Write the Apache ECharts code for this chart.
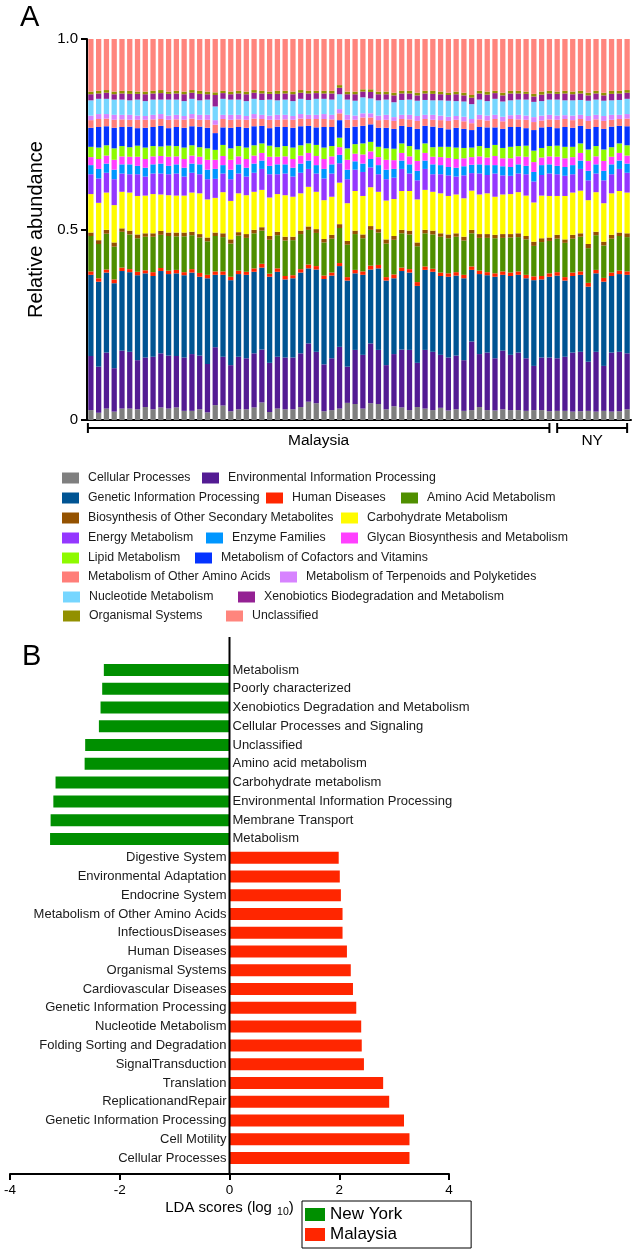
<!DOCTYPE html>
<html><head><meta charset="utf-8">
<script src="https://cdn.jsdelivr.net/npm/echarts@6/dist/echarts.min.js"></script>
<style>html,body{margin:0;padding:0;background:#fff}#c{width:644px;height:1253px}</style>
</head><body><div id="c"></div>
<script>
// ---------------- Panel A data (relative abundance, in percent of 1.0) ----------------
const sampleIds = ['M1','M2','M3','M4','M5','M6','M7','M8','M9','M10','M11','M12','M13','M14','M15','M16','M17','M18','M19','M20',
 'M21','M22','M23','M24','M25','M26','M27','M28','M29','M30','M31','M32','M33','M34','M35','M36','M37','M38','M39','M40',
 'M41','M42','M43','M44','M45','M46','M47','M48','M49','M50','M51','M52','M53','M54','M55','M56','M57','M58','M59','M60',
 'NY1','NY2','NY3','NY4','NY5','NY6','NY7','NY8','NY9','NY10'];
const groupLabels = ['Malaysia','NY'];
const groupSizes = [60,10];
const yTicksA = ['0','0.5','1.0'];

const cellularProcesses = [2.6,1.9,3.0,2.2,3.0,3.0,2.8,3.4,2.8,3.3, 3.0,3.3,2.4,2.4,2.8,2.0,3.9,3.8,2.3,2.8, 2.8,3.3,4.6,2.1,3.0,2.8,2.8,3.4,4.8,4.4, 2.3,2.6,3.0,4.5,4.2,3.0,4.4,4.2,2.8,3.6, 3.3,2.6,3.4,3.0,2.6,3.2,2.5,2.8,2.4,2.6, 3.4,2.6,2.5,2.8,2.6,2.6,2.4,2.6,2.6,2.3, 2.4,2.4,2.2,2.3,2.4,2.2,2.4,2.2,2.3,2.8];
const envInfoProcessing = [14.2,12.1,14.7,11.4,15.2,14.9,12.9,13.0,13.8,14.2, 13.9,13.5,14.0,14.9,14.1,12.7,15.2,12.8,12.1,13.8, 13.4,14.2,13.9,12.9,13.6,13.6,13.6,14.1,15.3,13.5, 12.3,13.6,16.2,9.5,14.2,14.1,15.7,14.2,11.6,13.7, 15.2,15.8,11.6,15.4,15.3,13.9,13.9,14.1,13.3,18.0, 13.9,15.1,13.7,15.4,14.5,15.1,13.8,11.6,13.8,14.1, 13.8,14.2,15.5,15.6,12.9,15.7,11.8,15.5,15.6,14.7];
const geneticInfoProcessing = [21.3,22.3,21.0,22.3,20.9,20.9,22.3,22.1,21.2,21.6, 21.4,21.7,21.6,21.4,20.7,22.5,19.0,21.5,22.3,21.7, 21.9,21.4,21.5,22.6,22.3,20.5,20.8,21.2,19.7,21.6, 22.4,21.7,21.2,22.6,20.1,21.0,19.4,21.4,22.2,19.9, 20.6,20.3,20.2,21.0,21.0,20.7,21.2,21.0,21.5,18.8, 21.0,20.3,21.4,19.9,20.7,20.4,21.0,22.5,20.5,21.2, 21.7,20.0,20.1,20.2,19.7,20.6,22.1,20.1,20.4,20.6];
const humanDiseases = [0.9,0.9,0.8,1.0,0.9,0.8,0.9,0.8,1.0,0.8, 0.9,0.9,0.8,0.9,1.0,0.9,0.9,0.9,0.9,0.9, 0.8,0.9,1.0,0.8,0.9,0.9,0.8,0.9,1.0,0.9, 0.9,0.8,0.8,0.9,0.9,0.9,1.0,0.9,0.9,1.0, 0.9,0.9,1.0,0.9,0.8,0.9,0.9,0.9,0.9,0.9, 0.9,0.8,0.9,0.9,0.9,0.9,0.9,1.0,0.9,0.9, 0.9,0.9,0.9,0.9,1.0,0.9,1.0,0.9,0.9,0.9];
const aminoAcidMetabolism = [9.3,9.0,9.4,8.6,9.4,9.1,8.8,8.8,9.3,8.7, 9.1,8.8,9.4,8.9,9.3,8.8,9.3,9.0,8.7,9.2, 8.9,9.2,8.7,8.9,8.7,9.3,9.2,9.2,9.1,8.7, 8.7,8.9,9.2,8.5,9.4,8.7,9.4,8.5,8.8,9.1, 9.0,9.1,9.4,8.7,9.0,9.4,9.2,9.3,9.0,8.7, 8.6,9.0,9.2,8.8,9.2,9.0,9.3,8.0,8.9,8.5, 8.8,9.0,8.9,9.1,9.1,9.1,8.5,8.9,9.1,9.0];
const biosynthesisOther = [0.9,1.0,1.0,1.1,0.9,1.0,1.0,0.9,0.9,1.0, 0.9,1.0,1.0,0.9,0.9,1.0,0.9,1.0,1.1,0.9, 1.0,0.9,0.9,1.0,0.9,1.0,0.9,0.9,0.9,1.0, 0.9,1.0,1.0,1.0,0.9,1.0,1.0,0.9,1.1,1.0, 0.9,1.0,1.0,0.9,1.0,0.9,1.0,0.9,1.0,0.9, 1.0,1.0,0.9,1.0,0.9,1.0,0.9,1.1,1.0,0.9, 1.0,0.9,1.0,0.9,1.1,0.9,1.0,1.0,0.9,1.0];
const carbohydrateMetabolism = [10.1,9.8,9.8,9.8,9.6,10.0,10.1,9.9,10.3,9.6, 9.8,9.7,9.7,10.3,10.7,10.0,9.1,10.8,10.1,10.2, 10.2,10.0,9.8,10.1,9.9,10.9,10.5,9.8,10.4,9.8, 10.2,10.0,10.9,9.9,10.4,10.1,10.2,9.8,10.2,9.7, 10.2,10.4,11.3,10.5,10.2,10.5,10.1,10.2,10.1,10.3, 10.4,10.7,10.0,10.4,10.5,10.8,10.6,10.3,11.2,10.9, 10.2,11.4,11.1,11.2,11.5,10.4,10.1,10.9,10.9,10.7];
const energyMetabolism = [5.2,6.4,5.2,6.8,4.8,4.8,5.7,5.0,5.4,5.5, 5.5,5.8,5.0,5.2,5.0,5.3,5.0,4.9,5.7,5.2, 4.9,5.0,5.5,6.1,5.2,5.7,5.3,5.4,4.7,4.8, 5.7,6.1,5.1,6.3,5.6,6.3,5.2,4.6,5.6,5.6, 5.8,4.6,5.0,5.5,4.6,5.0,5.4,4.7,6.0,4.6, 5.5,4.8,6.1,5.0,4.8,4.9,5.6,5.5,5.4,5.9, 5.7,5.3,4.8,5.7,5.2,4.9,6.0,5.0,5.8,5.2];
const enzymeFamilies = [2.4,2.5,2.4,2.5,2.4,2.6,2.2,2.3,2.4,2.6, 2.2,2.4,2.3,2.4,2.6,2.5,2.6,2.2,2.5,2.4, 2.3,2.4,2.2,2.2,2.6,2.4,2.3,2.4,2.2,2.2, 2.5,2.4,2.2,2.5,2.2,2.2,2.2,2.4,2.5,2.3, 2.2,2.4,2.5,2.2,2.6,2.4,2.2,2.3,2.4,2.2, 2.4,2.6,2.2,2.4,2.3,2.4,2.2,2.5,2.6,2.4, 2.2,2.3,2.4,2.2,2.5,2.4,2.5,2.6,2.2,2.4];
const glycanMetabolism = [2.1,2.6,2.1,2.6,2.1,2.0,2.4,2.3,2.1,2.0, 2.4,2.1,2.3,2.1,2.0,2.6,2.4,2.4,2.6,2.1, 2.3,2.1,2.0,2.4,2.0,2.1,2.3,2.1,2.0,2.4, 2.6,2.1,2.0,2.6,2.0,2.4,2.0,2.1,2.6,2.3, 2.0,2.1,2.6,2.0,2.0,2.1,2.4,2.3,2.1,2.0, 2.1,2.0,2.4,2.1,2.3,2.1,2.4,2.6,2.0,2.1, 2.4,2.3,2.1,2.0,2.6,2.1,2.6,2.0,2.0,2.1];
const lipidMetabolism = [2.7,3.0,2.7,3.0,2.7,2.5,2.9,3.0,2.7,2.5, 2.9,2.7,3.0,2.7,2.5,3.0,2.6,2.9,3.0,2.7, 3.0,2.7,2.5,2.9,2.5,2.7,3.0,2.7,2.5,2.9, 3.0,2.7,2.5,3.0,2.5,2.9,2.5,2.7,3.0,3.0, 2.5,2.7,3.0,2.5,2.5,2.7,2.9,3.0,2.7,2.5, 2.7,2.5,2.9,2.7,3.0,2.7,2.9,3.0,2.5,2.7, 2.9,3.0,2.7,2.5,3.0,2.7,3.0,2.5,2.5,2.7];
const cofactorsVitamins = [5.0,5.4,5.0,5.4,5.0,5.4,4.6,5.2,5.0,5.4, 4.6,5.0,5.2,5.0,5.4,5.4,4.4,4.6,5.4,5.0, 5.2,5.0,4.6,4.6,5.4,5.0,5.2,5.0,4.6,4.6, 5.4,5.0,4.6,5.4,4.6,4.6,4.6,5.0,5.4,5.2, 4.6,5.0,5.4,4.6,5.4,5.0,4.6,5.2,5.0,4.6, 5.0,5.4,4.6,5.0,5.2,5.0,4.6,5.4,5.4,5.0, 4.6,5.2,5.0,4.6,5.4,5.0,5.4,5.4,4.6,5.0];
const otherAminoAcids = [2.0,2.1,2.0,2.1,2.0,1.8,2.2,2.1,2.0,1.8, 2.2,2.0,2.1,2.0,1.8,2.1,2.2,2.2,2.1,2.0, 2.1,2.0,1.8,2.2,1.8,2.0,2.1,2.0,1.8,2.2, 2.1,2.0,1.8,2.1,1.8,2.2,1.8,2.0,2.1,2.1, 1.8,2.0,2.1,1.8,1.8,2.0,2.2,2.1,2.0,1.8, 2.0,1.8,2.2,2.0,2.1,2.0,2.2,2.1,1.8,2.0, 2.2,2.1,2.0,1.8,2.1,2.0,2.1,1.8,1.8,2.0];
const terpenoidsPolyketides = [1.2,1.3,1.2,1.3,1.2,1.3,1.1,1.0,1.2,1.3, 1.1,1.2,1.0,1.2,1.3,1.3,1.2,1.1,1.3,1.2, 1.0,1.2,1.1,1.1,1.3,1.2,1.0,1.2,1.1,1.1, 1.3,1.2,1.1,1.3,1.1,1.1,1.1,1.2,1.3,1.0, 1.1,1.2,1.3,1.1,1.3,1.2,1.1,1.0,1.2,1.1, 1.2,1.3,1.1,1.2,1.0,1.2,1.1,1.3,1.3,1.2, 1.1,1.0,1.2,1.1,1.3,1.2,1.3,1.3,1.1,1.2];
const nucleotideMetabolism = [4.0,4.0,4.0,4.0,4.0,3.8,4.2,3.9,4.0,3.8, 4.2,4.0,3.9,4.0,3.8,4.0,3.6,4.2,4.0,4.0, 3.9,4.0,3.9,4.2,3.8,4.0,3.9,4.0,3.9,4.2, 4.0,4.0,3.9,4.0,3.9,4.2,3.9,4.0,4.0,3.9, 3.9,4.0,4.0,3.9,3.8,4.0,4.2,3.9,4.0,3.9, 4.0,3.8,4.2,4.0,3.9,4.0,4.2,4.0,3.8,4.0, 4.2,3.9,4.0,3.9,4.0,4.0,4.0,3.8,3.9,4.0];
const xenobioticsMetabolism = [1.6,1.4,1.6,1.4,1.6,1.7,1.5,1.8,1.6,1.7, 1.5,1.6,1.8,1.6,1.7,1.4,3.0,1.5,1.4,1.6, 1.8,1.6,1.7,1.5,1.7,1.6,1.8,1.6,1.7,1.5, 1.4,1.6,1.7,1.4,1.7,1.5,1.7,1.6,1.4,1.8, 1.7,1.6,1.4,1.7,1.7,1.6,1.5,1.8,1.6,1.7, 1.6,1.7,1.5,1.6,1.8,1.6,1.5,1.4,1.7,1.6, 1.5,1.8,1.6,1.7,1.4,1.6,1.4,1.7,1.7,1.6];
const organismalSystems = [0.7,0.7,0.7,0.7,0.7,0.8,0.6,0.7,0.7,0.8, 0.6,0.7,0.7,0.7,0.8,0.7,0.7,0.6,0.7,0.7, 0.7,0.7,0.7,0.6,0.8,0.7,0.7,0.7,0.7,0.6, 0.7,0.7,0.7,0.7,0.7,0.6,0.7,0.7,0.7,0.7, 0.7,0.7,0.7,0.7,0.8,0.7,0.6,0.7,0.7,0.7, 0.7,0.8,0.6,0.7,0.7,0.7,0.6,0.7,0.8,0.7, 0.6,0.7,0.7,0.7,0.7,0.7,0.7,0.8,0.7,0.7];
const unclassifiedA = [13.8,13.6,13.4,13.8,13.6,13.6,13.8,13.8,13.6,13.4, 13.8,13.6,13.8,13.4,13.6,13.8,14.0,13.6,13.8,13.6, 13.8,13.4,13.6,13.8,13.6,13.6,13.8,13.4,13.6,13.6, 13.6,13.6,12.1,13.8,13.8,13.2,13.2,13.8,13.8,14.1, 13.6,13.6,14.1,13.6,13.6,13.8,14.1,13.8,14.1,14.7, 13.6,13.8,13.6,14.1,13.6,13.6,13.8,14.4,13.8,13.6, 13.8,13.6,13.8,13.6,14.1,13.6,14.1,13.6,13.6,13.4];

const seriesNamesA = ['Cellular Processes','Environmental Information Processing','Genetic Information Processing','Human Diseases','Amino Acid Metabolism','Biosynthesis of Other Secondary Metabolites','Carbohydrate Metabolism','Energy Metabolism','Enzyme Families','Glycan Biosynthesis and Metabolism','Lipid Metabolism','Metabolism of Cofactors and Vitamins','Metabolism of Other Amino Acids','Metabolism of Terpenoids and Polyketides','Nucleotide Metabolism','Xenobiotics Biodegradation and Metabolism','Organismal Systems','Unclassified'];
const seriesDataA = [cellularProcesses,envInfoProcessing,geneticInfoProcessing,humanDiseases,aminoAcidMetabolism,biosynthesisOther,carbohydrateMetabolism,energyMetabolism,enzymeFamilies,glycanMetabolism,lipidMetabolism,cofactorsVitamins,otherAminoAcids,terpenoidsPolyketides,nucleotideMetabolism,xenobioticsMetabolism,organismalSystems,unclassifiedA];
const colorsA = ['#7f7f7f','#531b93','#005493','#ff2600','#4f8f00','#945200','#fffb00','#9437ff','#0096ff','#ff40ff','#8efa00','#0433ff','#ff7e79','#d783ff','#76d6ff','#942193','#929000','#ff857d'];

// ---------------- Panel B data (LDA scores, log10) ----------------
const categoriesB = ['Metabolism','Poorly characterized','Xenobiotics Degradation and Metabolism','Cellular Processes and Signaling','Unclassified','Amino acid metabolism','Carbohydrate metabolism','Environmental Information Processing','Membrane Transport','Metabolism',
 'Digestive System','Environmental Adaptation','Endocrine System','Metabolism of Other Amino Acids','InfectiousDiseases','Human Diseases','Organismal Systems','Cardiovascular Diseases','Genetic Information Processing','Nucleotide Metabolism','Folding Sorting and Degradation','SignalTransduction','Translation','ReplicationandRepair','Genetic Information Processing','Cell Motility','Cellular Processes'];
const ldaNewYork = [-2.29,-2.32,-2.35,-2.38,-2.63,-2.64,-3.17,-3.21,-3.26,-3.27];
const ldaMalaysia = [1.99,2.01,2.03,2.06,2.06,2.14,2.21,2.25,2.31,2.40,2.41,2.45,2.80,2.91,3.18,3.28,3.28];
const xTicksB = [-4,-2,0,2,4];

// ---------------- fonts ----------------
function hasFont(name){
  const c=document.createElement('canvas').getContext('2d');
  const s='Cellular Processes Metabolism Wmi';
  c.font='40px monospace'; const w1=c.measureText(s).width;
  c.font='40px "'+name+'", monospace'; const w2=c.measureText(s).width;
  return Math.abs(w1-w2)>1;
}
const SANS='"Liberation Sans", Arial, Helvetica, sans-serif';
const NARROW=hasFont('Liberation Sans Narrow');
const LEG_FONT=NARROW?'"Liberation Sans Narrow", "Liberation Sans", sans-serif':SANS;
const LEG_SIZE=NARROW?15:12.3;

// legend layout for panel A (box left x, row centre y)
const legendPosA = [[62,478],[202,478],[62,498],[266,498],[401,498],[62,518],[341,518],[62,538],[206,538],[341,538],[62,558],[195,558],[62,577],[280,577],[63,597],[238,597],[63,616],[226,616]];

const chart = echarts.init(document.getElementById('c'), null, {renderer:'canvas'});

const legends = seriesNamesA.map((n,i)=>({
  left: legendPosA[i][0], top: legendPosA[i][1]-8, padding:0, itemGap:0,
  itemWidth:17, itemHeight:11, icon:'rect', data:[n], selectedMode:false,
  textStyle:{fontFamily:LEG_FONT, fontSize:LEG_SIZE, color:'#1a1a1a', lineHeight:16, padding:[0,0,0,4]}
}));
legends.push({
  left:302, top:1201, orient:'vertical', padding:[5,69,5,3], itemGap:3,
  itemWidth:20, itemHeight:13, icon:'rect', data:['New York','Malaysia'], selectedMode:false,
  borderColor:'#000', borderWidth:1,
  textStyle:{fontFamily:SANS, fontSize:17, color:'#000'}
});

const seriesA = seriesNamesA.map((n,i)=>({
  name:n, type:'bar', stack:'A', xAxisIndex:0, yAxisIndex:0,
  data:seriesDataA[i], barCategoryGap:'32%',
  itemStyle:{color:colorsA[i]}, emphasis:{disabled:true}
}));

const nyData = ldaNewYork.concat(ldaMalaysia.map(()=> '-'));
const myData = ldaNewYork.map(()=> '-').concat(ldaMalaysia);
const labelBase = {show:true, distance:3, fontFamily:SANS, fontSize:13, color:'#1a1a1a', formatter:p=>categoriesB[p.dataIndex]};

const option = {
  animation:false,
  textStyle:{fontFamily:SANS},
  legend: legends,
  grid:[
    {left:87, top:39, width:544, height:381},
    {left:10, top:660.6, width:439, height:506.8}
  ],
  xAxis:[
    {gridIndex:0, type:'category', data:sampleIds,
     axisLine:{show:true, lineStyle:{color:'#000', width:2}}, axisTick:{show:false}, axisLabel:{show:false}, splitLine:{show:false}},
    {gridIndex:1, type:'value', min:xTicksB[0], max:xTicksB[xTicksB.length-1], interval:2, position:'bottom', offset:6.6,
     axisLine:{show:true, onZero:false, lineStyle:{color:'#000', width:2}},
     axisTick:{show:true, length:6, lineStyle:{color:'#000', width:2}},
     axisLabel:{color:'#000', fontSize:13.5, margin:9, fontFamily:SANS},
     splitLine:{show:false},
     name:'LDA scores (log {sub|10})', nameLocation:'middle', nameGap:24,
     nameTextStyle:{color:'#000', fontSize:15, fontFamily:SANS, rich:{sub:{fontSize:10.5, fontFamily:SANS, color:'#000', padding:[9,0,0,1]}}}}
  ],
  yAxis:[
    {gridIndex:0, type:'value', min:0, max:100, interval:50,
     axisLine:{show:true, lineStyle:{color:'#000', width:2}},
     axisTick:{show:true, length:6, lineStyle:{color:'#000', width:2}},
     axisLabel:{color:'#000', fontSize:15, margin:9, fontFamily:SANS, formatter:v=>yTicksA[Math.round(v/50)]},
     splitLine:{show:false},
     name:'Relative abundance', nameLocation:'middle', nameGap:37,
     nameTextStyle:{color:'#000', fontSize:20, fontFamily:SANS}},
    {gridIndex:1, type:'category', data:categoriesB, inverse:true,
     axisLine:{show:false}, axisTick:{show:false}, axisLabel:{show:false}, splitLine:{show:false}}
  ],
  series: seriesA.concat([
    {name:'New York', type:'bar', xAxisIndex:1, yAxisIndex:1, data:nyData, barWidth:12, barGap:'-100%',
     itemStyle:{color:'#008f00'}, emphasis:{disabled:true}, label:Object.assign({position:'right'}, labelBase)},
    {name:'Malaysia', type:'bar', xAxisIndex:1, yAxisIndex:1, data:myData, barWidth:12, barGap:'-100%',
     itemStyle:{color:'#ff2600'}, emphasis:{disabled:true}, label:Object.assign({position:'left'}, labelBase)}
  ])
};
chart.setOption(option);

// ---------------- annotations positioned through the axes ----------------
const g = [];
g.push({type:'text', left:20, top:3, style:{text:'A', font:'29px '+SANS, fill:'#000'}});
g.push({type:'text', left:22, top:642, style:{text:'B', font:'29px '+SANS, fill:'#000'}});
let start = 0;
const yBr = 428;
groupLabels.forEach((lab,gi)=>{
  const end = start + groupSizes[gi] - 1;
  const x0 = chart.convertToPixel({xAxisIndex:0}, start) - (gi===0 ? 3 : 0);
  const x1 = chart.convertToPixel({xAxisIndex:0}, end);
  const ls = {stroke:'#000', lineWidth:2};
  g.push({type:'line', shape:{x1:x0, y1:yBr, x2:x1, y2:yBr}, style:ls});
  g.push({type:'line', shape:{x1:x0, y1:yBr-5, x2:x0, y2:yBr+5}, style:ls});
  g.push({type:'line', shape:{x1:x1, y1:yBr-5, x2:x1, y2:yBr+5}, style:ls});
  g.push({type:'text', x:(x0+x1)/2, y:441, style:{text:lab, font:'15.5px '+SANS, fill:'#000', textAlign:'center', textVerticalAlign:'middle'}});
  start = end + 1;
});
const xZero = chart.convertToPixel({xAxisIndex:1}, 0);
g.push({type:'line', shape:{x1:xZero, y1:637, x2:xZero, y2:1174}, style:{stroke:'#000', lineWidth:2}, z:10});
chart.setOption({graphic:g});
</script></body></html>
